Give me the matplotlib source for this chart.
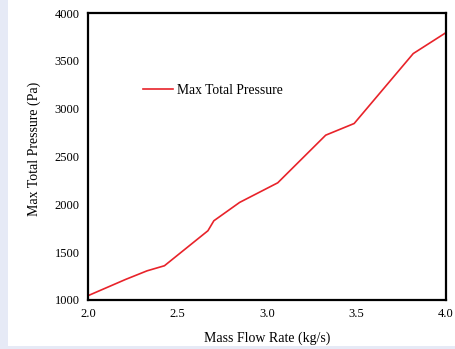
import matplotlib
import matplotlib.pyplot as plt
from matplotlib.patches import Rectangle

matplotlib.use("Agg")

# Data
mass_flow = [2.0, 2.21, 2.33, 2.427, 2.67, 2.703, 2.847, 3.06, 3.328, 3.487, 3.817, 4.0]
max_pressure = [1045, 1215, 1305, 1358, 1724, 1828, 2020, 2225, 2723, 2845, 3576, 3795]
x_ticks = [2.0, 2.5, 3.0, 3.5, 4.0]
y_ticks = [1000, 1500, 2000, 2500, 3000, 3500, 4000]

plt.rcParams["font.family"] = ["Liberation Serif", "DejaVu Serif"]

fig = plt.figure(figsize=(4.55, 3.49), dpi=100)
fig.patch.set_facecolor("white")

# light blue border strips of the screenshot
fig.patches.append(Rectangle((0, 0), 8 / 455, 1, transform=fig.transFigure,
                             facecolor="#e6eaf6", edgecolor="none", zorder=0))
fig.patches.append(Rectangle((0, 0), 1, 3 / 349, transform=fig.transFigure,
                             facecolor="#e6eaf6", edgecolor="none", zorder=0))

ax = fig.add_axes([88 / 455, 1 - 300 / 349, 358 / 455, 287 / 349])
ax.plot(mass_flow, max_pressure, color="#e8232a", linewidth=1.2, label="Max Total Pressure")

ax.set_xlim(2.0, 4.0)
ax.set_ylim(1000, 4000)
ax.set_xticks(x_ticks)
ax.set_xticklabels([f"{v:.1f}" for v in x_ticks])
ax.set_yticks(y_ticks)
ax.tick_params(length=0, labelsize=9, pad=6)
for s in ax.spines.values():
    s.set_linewidth(1.6)
    s.set_color("black")

ax.set_xlabel("Mass Flow Rate (kg/s)", fontsize=10, labelpad=8)
ax.set_ylabel("Max Total Pressure (Pa)", fontsize=10, labelpad=10, y=0.526)

ax.legend(loc="center left", bbox_to_anchor=(0.12, 0.73), frameon=False,
          fontsize=9.8, handlelength=2.2, handletextpad=0.3)

fig.savefig("out.png", dpi=100)
